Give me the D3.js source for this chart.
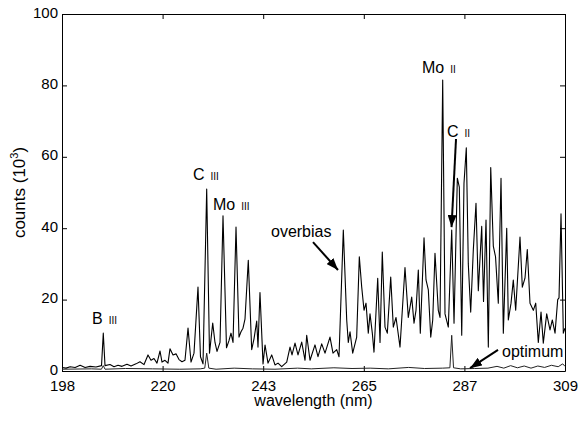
<!DOCTYPE html>
<html>
<head>
<meta charset="utf-8">
<script src="https://cdn.jsdelivr.net/npm/d3@7"></script>
<style>
  body { margin: 0; background: #fff; }
  svg { display: block; font-family: "Liberation Sans", Arial, Helvetica, sans-serif; }
</style>
</head>
<body>
<svg id="chart"></svg>
<script>
// overbias spectrum, wavelength (nm) and counts (10^3)
const wavelength = [198.0, 198.9, 199.8, 200.9, 202.0, 203.1, 204.2, 205.5, 206.72, 207.11, 207.49,
  208.59, 209.48, 210.36, 211.24, 212.34, 213.23, 214.33, 215.21, 216.10, 216.98, 217.64, 218.30,
  218.96, 219.63, 220.07, 220.73, 221.39, 221.83, 222.50, 223.16, 223.82, 224.48, 225.14, 225.81,
  226.47, 227.13, 228.01, 228.56, 229.12, 229.93, 230.55, 231.26, 231.76, 232.21, 232.87, 233.53,
  234.30, 234.85, 235.29, 235.74, 236.40, 237.06, 237.50, 237.94, 238.38, 239.11, 239.86, 240.37,
  240.97, 241.25, 241.69, 242.36, 242.80, 243.46, 244.28, 245.00, 245.67, 246.48, 247.59, 248.32,
  248.76, 249.42, 250.08, 250.90, 251.63, 252.00, 252.73, 253.83, 254.49, 255.31, 256.04, 257.14,
  257.80, 258.62, 259.13, 260.08, 260.83, 261.18, 261.56, 262.15, 263.03, 263.61, 264.14, 264.65,
  265.09, 265.59, 265.97, 266.48, 266.85, 267.67, 268.18, 268.68, 269.28, 269.79, 270.54, 271.11,
  271.71, 272.59, 273.69, 274.42, 275.17, 275.68, 276.12, 276.63, 277.07, 277.89, 278.33, 278.84,
  279.37, 279.81, 280.31, 281.04, 281.42, 282.01, 282.52, 283.25, 284.00, 284.51, 285.24, 285.68,
  286.21, 286.71, 287.22, 287.66, 288.19, 288.77, 289.36, 289.87, 290.62, 291.02, 291.57, 292.08,
  292.61, 293.18, 293.67, 294.28, 294.88, 295.39, 296.14, 296.49, 297.09, 297.59, 298.12, 299.07,
  299.58, 300.17, 300.68, 301.28, 302.01, 302.54, 303.11, 303.71, 304.21, 304.96, 305.69, 306.20,
  306.80, 307.39, 307.68, 308.12, 308.63, 309.0];
const overbias = [1.0, 0.8, 1.2, 1.0, 1.6, 1.0, 1.3, 1.1, 1.5, 10.6, 1.5,
  1.8, 1.2, 1.6, 1.3, 1.9, 1.4, 2.0, 2.6, 1.8, 4.5, 3.0, 3.5,
  2.2, 5.6, 2.5, 3.0, 2.2, 6.2, 4.5, 4.8, 3.2, 2.6, 3.0, 12.0,
  2.5, 5.0, 23.5, 4.0, 2.0, 51.0, 5.0, 13.4, 8.0, 5.5, 8.0, 43.5,
  6.5, 8.5, 10.6, 8.0, 40.3, 9.5, 11.0, 12.0, 14.5, 31.0, 6.0, 9.0,
  14.0, 6.7, 22.0, 2.0, 7.3, 2.2, 4.5, 1.7, 2.2, 1.2, 2.5, 6.7,
  4.5, 7.8, 4.5, 8.1, 3.0, 10.0, 3.0, 7.3, 4.0, 7.6, 5.0, 9.5,
  5.0, 6.0, 4.0, 39.5, 14.3, 8.0, 11.0, 5.0, 9.5, 32.0, 23.5, 17.0,
  19.0, 10.6, 16.0, 10.6, 5.3, 26.0, 8.0, 33.3, 12.3, 10.6, 26.3, 12.3,
  15.0, 6.7, 29.0, 15.0, 20.7, 13.4, 17.0, 28.3, 10.6, 37.3, 25.5, 22.7,
  9.5, 14.3, 33.0, 17.0, 15.0, 81.5, 16.0, 12.3, 39.5, 13.4, 54.0, 51.5,
  10.0, 52.6, 62.5, 30.0, 16.5, 34.0, 47.0, 22.5, 40.5, 19.5, 42.3, 6.7,
  57.0, 35.0, 32.0, 19.0, 54.0, 10.6, 40.0, 14.3, 19.0, 25.5, 17.0, 37.5,
  23.5, 26.0, 34.0, 19.0, 17.0, 19.0, 8.0, 16.5, 7.8, 16.0, 11.5, 14.3,
  10.6, 20.0, 20.5, 44.0, 10.6, 12.0];

// optimum spectrum
const optWavelength = [198.0, 204.5, 206.7, 207.1, 207.5, 212.0, 218.0, 224.0, 228.5, 229.5, 229.93,
  230.4, 232.0, 236.0, 240.0, 245.0, 250.0, 253.0, 258.0, 262.0, 266.0, 270.0, 274.5, 278.0, 282.0,
  283.6, 284.0, 284.4, 286.0, 289.0, 292.0, 294.0, 295.5, 297.0, 298.5, 300.0, 301.5, 303.0, 304.5,
  306.0, 307.5, 308.5, 309.0];
const optimum = [0.5, 0.6, 0.5, 1.5, 0.5, 0.7, 0.6, 0.5, 0.6, 0.8, 5.0,
  0.8, 0.5, 0.8, 0.6, 0.5, 0.8, 0.6, 0.9, 0.7, 0.8, 0.6, 1.0, 0.7, 0.8,
  0.9, 10.0, 0.9, 0.6, 0.7, 0.8, 1.3, 0.8, 1.5, 0.9, 1.4, 0.8, 1.4, 1.0,
  1.6, 1.2, 2.0, 1.3];

const xTickValues = [198, 220.2, 242.4, 264.6, 286.8, 309];
const xTickLabels = ["198", "220", "243", "265", "287", "309"];
const yTickValues = [0, 20, 40, 60, 80, 100];

// annotations: text, roman numeral, anchor in data units (wavelength, counts)
const lineLabels = [
  { text: "B", ion: "III", wl: 204.62, c: 13.2 },
  { text: "C", ion: "III", wl: 226.91, c: 53.5 },
  { text: "Mo", ion: "III", wl: 231.32, c: 45.1 },
  { text: "overbias", ion: "", wl: 244.12, c: 37.5 },
  { text: "Mo", ion: "II", wl: 277.45, c: 83.5 },
  { text: "C", ion: "II", wl: 282.96, c: 65.6 },
  { text: "optimum", ion: "", wl: 295.1, c: 3.9 }
];
const arrows = [
  { from: [253.39, 36.1], to: [258.91, 28.3] },
  { from: [284.95, 65.0], to: [283.96, 40.3] },
  { from: [294.22, 5.9], to: [288.04, 0.8] }
];

class Spectrum {

  constructor(_config) {
    this.config = {
      parentElement: _config.parentElement,
      containerWidth: _config.containerWidth || 578,
      containerHeight: _config.containerHeight || 423,
      margin: { top: 14, bottom: 52, right: 13, left: 62 }
    }
    this.initVis();
  }

  initVis() {
    let vis = this;

    vis.width = vis.config.containerWidth - vis.config.margin.left - vis.config.margin.right;
    vis.height = vis.config.containerHeight - vis.config.margin.top - vis.config.margin.bottom;

    vis.xScale = d3.scaleLinear().domain([198, 309]).range([0, vis.width]);
    vis.yScale = d3.scaleLinear().domain([0, 100]).range([vis.height, 0]);

    vis.svg = d3.select(vis.config.parentElement)
      .attr('width', vis.config.containerWidth)
      .attr('height', vis.config.containerHeight);

    vis.chart = vis.svg.append('g')
      .attr('transform', `translate(${vis.config.margin.left},${vis.config.margin.top})`);

    // arrow head
    vis.svg.append('defs').append('marker')
      .attr('id', 'head')
      .attr('markerUnits', 'userSpaceOnUse')
      .attr('markerWidth', 13).attr('markerHeight', 9)
      .attr('refX', 12).attr('refY', 4.5)
      .attr('orient', 'auto')
      .append('path')
      .attr('d', 'M0,0 L12,4.5 L0,9 Z')
      .attr('fill', '#000');

    // inward ticks on all four sides, labels only bottom / left
    vis.xAxis = d3.axisBottom(vis.xScale).tickValues(xTickValues)
      .tickFormat((d, i) => xTickLabels[i]).tickSizeInner(-5).tickSizeOuter(0).tickPadding(9);
    vis.xAxisTop = d3.axisTop(vis.xScale).tickValues(xTickValues)
      .tickFormat('').tickSizeInner(-5).tickSizeOuter(0);
    vis.yAxis = d3.axisLeft(vis.yScale).tickValues(yTickValues)
      .tickSizeInner(-5).tickSizeOuter(0).tickPadding(4);
    vis.yAxisRight = d3.axisRight(vis.yScale).tickValues(yTickValues)
      .tickFormat('').tickSizeInner(-5).tickSizeOuter(0);

    vis.chart.append('g').attr('transform', `translate(0,${vis.height})`).call(vis.xAxis);
    vis.chart.append('g').call(vis.xAxisTop);
    vis.yAxisG = vis.chart.append('g').call(vis.yAxis);
    vis.chart.append('g').attr('transform', `translate(${vis.width},0)`).call(vis.yAxisRight);

    vis.chart.selectAll('.tick text')
      .attr('font-family', '"Liberation Sans", Arial, sans-serif')
      .attr('font-size', 15)
      .attr('fill', '#000');
    // y labels sit a touch above their ticks in the original
    vis.yAxisG.selectAll('.tick text').attr('dy', '0.2em');
    vis.chart.selectAll('.domain, .tick line').attr('stroke', '#000');

    vis.svg.append('text')
      .attr('x', vis.config.margin.left + vis.width / 2)
      .attr('y', 406)
      .attr('text-anchor', 'middle')
      .attr('font-size', 16)
      .text('wavelength (nm)');

    let yLab = vis.svg.append('text')
      .attr('transform', `translate(25,${vis.config.margin.top + vis.height / 2}) rotate(-90)`)
      .attr('text-anchor', 'middle')
      .attr('font-size', 17)
      .text('counts (10');
    yLab.append('tspan').attr('font-size', 11).attr('dy', -7).text('3');
    yLab.append('tspan').attr('dy', 7).text(')');

    vis.updateVis();
  }

  updateVis() {
    let vis = this;

    let line = d3.line()
      .x(d => vis.xScale(d[0]))
      .y(d => vis.yScale(d[1]));

    vis.chart.append('path')
      .datum(d3.zip(optWavelength, optimum))
      .attr('fill', 'none')
      .attr('stroke', '#222')
      .attr('stroke-width', 1)
      .attr('d', line);

    vis.chart.append('path')
      .datum(d3.zip(wavelength, overbias))
      .attr('fill', 'none')
      .attr('stroke', '#000')
      .attr('stroke-width', 1.1)
      .attr('stroke-linejoin', 'round')
      .attr('d', line);

    vis.chart.selectAll('.arrow')
      .data(arrows)
      .join('line')
      .attr('class', 'arrow')
      .attr('x1', d => vis.xScale(d.from[0]))
      .attr('y1', d => vis.yScale(d.from[1]))
      .attr('x2', d => vis.xScale(d.to[0]))
      .attr('y2', d => vis.yScale(d.to[1]))
      .attr('stroke', '#000')
      .attr('stroke-width', 2)
      .attr('marker-end', 'url(#head)');

    let labs = vis.chart.selectAll('.lab')
      .data(lineLabels)
      .join('text')
      .attr('class', 'lab')
      .attr('x', d => vis.xScale(d.wl))
      .attr('y', d => vis.yScale(d.c))
      .attr('font-size', 16)
      .text(d => d.text);
    labs.append('tspan')
      .attr('dx', 6)
      .attr('font-size', 10)
      .attr('fill', '#000')
      .text(d => d.ion);
  }
}

new Spectrum({ parentElement: '#chart' });
</script>
</body>
</html>
